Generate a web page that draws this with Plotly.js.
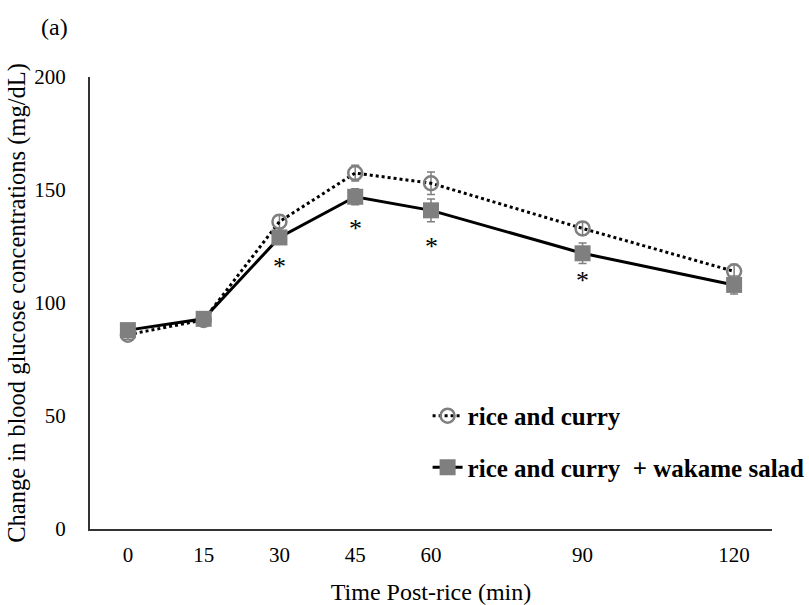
<!DOCTYPE html>
<html>
<head>
<meta charset="utf-8">
<script src="https://cdn.plot.ly/plotly-3.0.1.min.js"></script>
<style>html,body{margin:0;padding:0;background:#fff;}#chart{width:809px;height:605px;}</style>
</head>
<body>
<div id="chart"></div>
<script>
const timePoints = [0, 15, 30, 45, 60, 90, 120];
const riceCurry = [86, 92.5, 136, 157.5, 153, 133, 114];
const riceCurryErr = [2, 2, 3, 3.5, 5, 3, 3];
const riceCurryWakame = [88, 93, 129, 147, 141, 122, 108];
const riceCurryWakameErr = [2, 2, 3, 3.5, 5, 4.5, 4];
const sigTimes = [30, 45, 60, 90];
const sigY = [116, 133, 125, 110];
const xTickVals = [0, 15, 30, 45, 60, 90, 120];
const yTickVals = [0, 50, 100, 150, 200];

const serif = "'Liberation Serif', serif";

const traces = [
  {
    x: timePoints, y: riceCurry, name: 'rice and curry',
    type: 'scatter', mode: 'lines+markers',
    line: {color: '#000', width: 3, dash: 'dot'},
    marker: {symbol: 'circle-open', size: 14, color: '#7f7f7f', line: {color: '#7f7f7f', width: 2.5}},
    error_y: {type: 'data', array: riceCurryErr, visible: true, color: '#7f7f7f', thickness: 1.5, width: 4},
    legendgroup: 'a'
  },
  {
    x: timePoints, y: riceCurryWakame, name: 'rice and curry  + wakame salad',
    type: 'scatter', mode: 'lines+markers',
    line: {color: '#000', width: 3},
    marker: {symbol: 'square', size: 16, color: '#7f7f7f'},
    error_y: {type: 'data', array: riceCurryWakameErr, visible: true, color: '#7f7f7f', thickness: 1.5, width: 4},
    legendgroup: 'b'
  }
];

const annotations = sigTimes.map((t, i) => ({
  x: t, y: sigY[i], xref: 'x', yref: 'y', text: '*', showarrow: false,
  font: {family: serif, size: 26, color: '#000'}
}));
annotations.push({
  xref: 'paper', yref: 'paper', x: -0.052, y: 1.11, xanchor: 'center', yanchor: 'middle',
  text: '(a)', showarrow: false, font: {family: serif, size: 24, color: '#000'}
});

const layout = {
  width: 809, height: 605,
  margin: {l: 90, r: 37, t: 77, b: 76, autoexpand: false},
  paper_bgcolor: '#fff', plot_bgcolor: '#fff',
  font: {family: serif, size: 21, color: '#000'},
  showlegend: true,
  legend: {
    x: 0.495, y: 0.301, xanchor: 'left', yanchor: 'top',
    bgcolor: 'rgba(0,0,0,0)', traceorder: 'grouped', tracegroupgap: 16,
    font: {family: serif, size: 25, color: '#000', weight: 'bold'}
  },
  xaxis: {
    range: [-7.5, 127.5], tickvals: xTickVals, ticktext: xTickVals.map(String),
    showgrid: false, zeroline: false, showline: true, linecolor: '#333', linewidth: 2,
    ticks: '', ticklabelstandoff: 6, automargin: false,
    tickfont: {family: serif, size: 21},
    title: {text: 'Time Post-rice (min)', font: {family: serif, size: 24}, standoff: 18}
  },
  yaxis: {
    range: [0, 200], tickvals: yTickVals,
    showgrid: false, zeroline: false, showline: true, linecolor: '#333', linewidth: 2,
    ticks: '', ticklabelstandoff: 18, automargin: false,
    tickfont: {family: serif, size: 21},
    title: {text: 'Change in blood glucose concentrations (mg/dL)', font: {family: serif, size: 24.5}, standoff: 2}
  },
  annotations: annotations
};

Plotly.newPlot('chart', traces, layout, {displayModeBar: false, staticPlot: true});
</script>
</body>
</html>
